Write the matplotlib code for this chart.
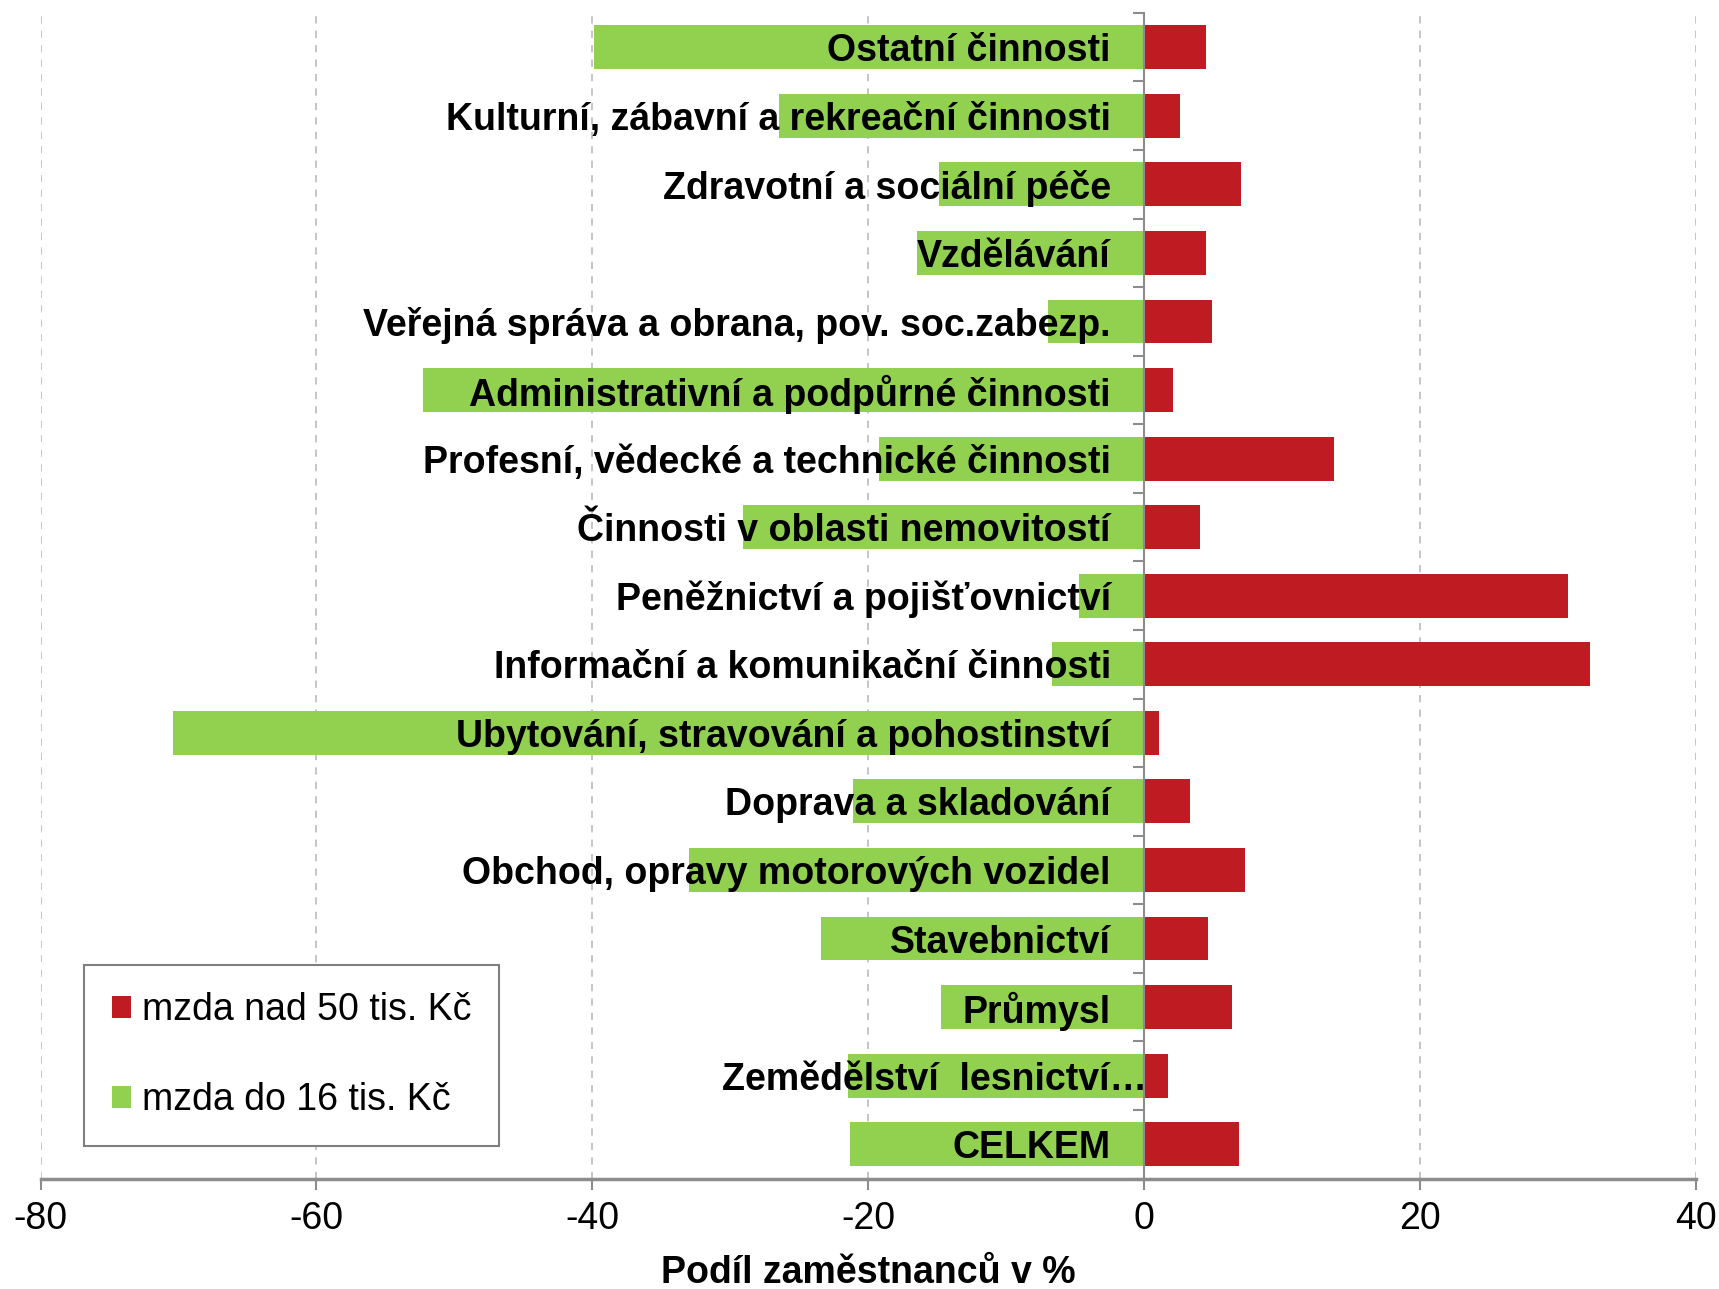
import matplotlib
matplotlib.use("Agg")
import matplotlib.pyplot as plt
import numpy as np
from matplotlib.patches import Patch
from matplotlib.transforms import ScaledTranslation

plt.rcParams['font.family'] = ['Liberation Sans', 'DejaVu Sans']

categories = [
    "Ostatní činnosti",
    "Kulturní, zábavní a rekreační činnosti",
    "Zdravotní a sociální péče",
    "Vzdělávání",
    "Veřejná správa a obrana, pov. soc.zabezp.",
    "Administrativní a podpůrné činnosti",
    "Profesní, vědecké a technické činnosti",
    "Činnosti v oblasti nemovitostí",
    "Peněžnictví a pojišťovnictví",
    "Informační a komunikační činnosti",
    "Ubytování, stravování a pohostinství",
    "Doprava a skladování",
    "Obchod, opravy motorových vozidel",
    "Stavebnictví",
    "Průmysl",
    "Zemědělství  lesnictví…",
    "CELKEM",
]
wage_over_50k = [4.5, 2.6, 7.0, 4.45, 4.9, 2.1, 13.75, 4.05, 30.7, 32.35, 1.1, 3.3, 7.3, 4.6, 6.4, 1.7, 6.9]
wage_under_16k = [-39.9, -26.5, -14.9, -16.5, -7.0, -52.3, -19.2, -29.1, -4.7, -6.7, -70.4, -21.1, -33.0, -23.4, -14.7, -21.5, -21.3]
xticks = [-80, -60, -40, -20, 0, 20, 40]
grid_vals = [-80, -60, -40, -20, 20, 40]

RED = '#BE1B22'
GREEN = '#92D050'
GREY = '#8C8C8C'
FS = 27

fig = plt.figure(figsize=(17.19, 12.89), dpi=100)
ax = fig.add_axes([0.0236, 0.0857, 0.963, 0.9043])

y = np.arange(len(categories))
for g in grid_vals:
    ax.axvline(g, color='#C0C0C0', lw=1.3, linestyle=(0, (4, 4)), zorder=0)

ax.barh(y, wage_under_16k, height=0.64, color=GREEN, zorder=1)
ax.barh(y, wage_over_50k, height=0.64, color=RED, zorder=1)

ax.set_xlim(-80, 40)
ax.set_ylim(len(categories) - 0.5, -0.5)
ax.set_xticks(xticks)
ax.set_xticklabels([str(v) for v in xticks], fontsize=FS)

for s in ['top', 'right']:
    ax.spines[s].set_visible(False)
ax.spines['left'].set_position(('data', 0))
ax.spines['left'].set_color(GREY)
ax.spines['left'].set_linewidth(1.5)
ax.spines['bottom'].set_color(GREY)
ax.spines['bottom'].set_linewidth(2.5)

ax.set_yticks(y)
ax.set_yticklabels(categories, fontsize=FS, fontweight='bold')
ax.tick_params(axis='y', which='major', length=0, pad=24)
ax.set_yticks(np.arange(-0.5, len(categories), 1.0), minor=True)
ax.tick_params(axis='y', which='minor', length=8, width=1.5, color=GREY, direction='out')
ax.tick_params(axis='x', which='major', length=8, width=1.5, color=GREY, direction='out', pad=8)

# Excel-style truncated label sits further right
lbl = ax.get_yticklabels()[15]
lbl.set_transform(lbl.get_transform() + ScaledTranslation(0.36, 0, fig.dpi_scale_trans))

ax.set_xlabel("Podíl zaměstnanců v %", fontsize=FS, fontweight='bold', labelpad=13)

handles = [Patch(facecolor=RED, edgecolor='none'), Patch(facecolor=GREEN, edgecolor='none')]
leg = ax.legend(handles, ["mzda nad 50 tis. Kč", "mzda do 16 tis. Kč"],
                loc='lower left', bbox_to_anchor=(0.0265, 0.0282), fontsize=FS,
                frameon=True, fancybox=False, edgecolor='#7F7F7F', framealpha=1,
                handlelength=0.5, handleheight=0.5, handletextpad=0.3,
                labelspacing=1.44, borderpad=0.73, borderaxespad=0)
leg.get_frame().set_linewidth(1.5)

fig.savefig("out.png", dpi=100)
